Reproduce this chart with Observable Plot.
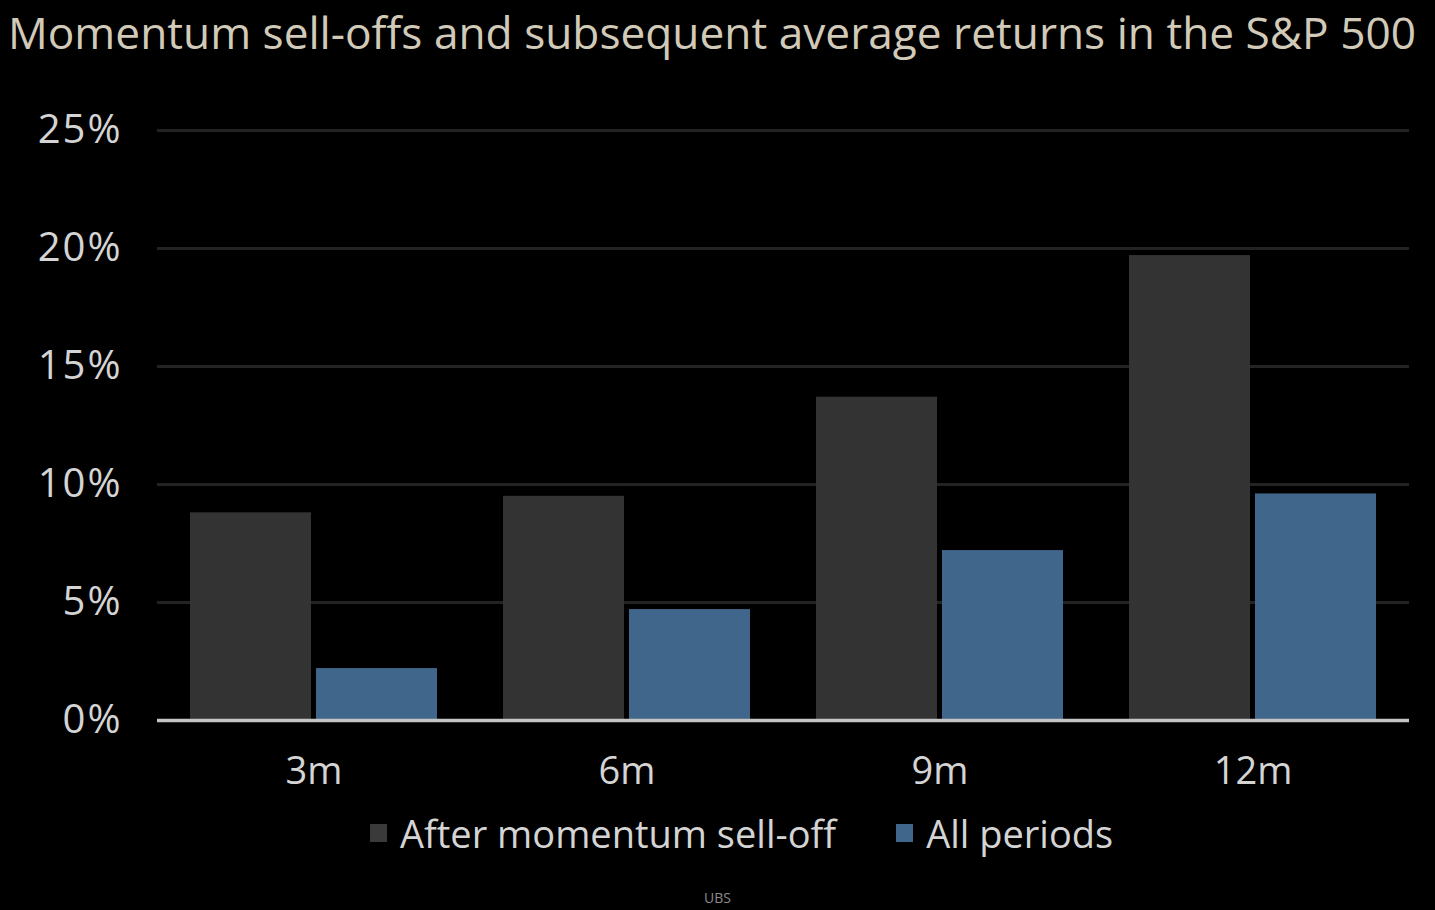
<!DOCTYPE html>
<html><head><meta charset="utf-8">
<script src="https://cdn.jsdelivr.net/npm/d3@7"></script>
<script src="https://cdn.jsdelivr.net/npm/@observablehq/plot@0.6"></script>
<style>
html,body{margin:0;padding:0;background:#000;}
body{width:1435px;height:910px;overflow:hidden;position:relative;font-family:"Open Sans",sans-serif;}
#title{position:absolute;left:0;top:0;width:1435px;height:70px;}
#chart{position:absolute;left:0;top:70px;}
#legend{position:absolute;left:370px;top:814px;height:38px;display:flex;align-items:center;font-size:38px;line-height:38px;color:#d4d4d4;white-space:nowrap;}
#legend .item{display:flex;align-items:center;margin-right:60px;}
#legend .sw{width:17px;height:18px;margin-right:13px;}
#caption{position:absolute;left:0;width:1435px;top:888px;text-align:center;font-size:14px;color:#8a8a8a;}
</style></head><body>
<div id="title"></div>
<div id="chart"></div>
<div id="legend"></div>
<div id="caption"></div>
<script>
const titleText = "Momentum sell-offs and subsequent average returns in the S&P 500";
const captionText = "UBS";
const periods = ["3m", "6m", "9m", "12m"];
const series = ["After momentum sell-off", "All periods"];
const afterSellOff = [8.8, 9.5, 13.7, 19.7];
const allPeriods = [2.2, 4.7, 7.2, 9.6];
const yTicks = [0, 5, 10, 15, 20, 25];
const colors = ["#333333", "#41668c"];

const data = periods.flatMap((p, i) => [
  {period: p, series: series[0], value: afterSellOff[i]},
  {period: p, series: series[1], value: allPeriods[i]}
]);

// Title
const tsvg = d3.select("#title").append("svg").attr("width", 1435).attr("height", 70);
tsvg.append("text")
  .attr("x", 8).attr("y", 49)
  .attr("textLength", 1408).attr("lengthAdjust", "spacingAndGlyphs")
  .attr("font-family", "Open Sans").attr("font-size", 43)
  .attr("fill", "#d2cab9")
  .text(titleText);

const chart = Plot.plot({
  width: 1435, height: 740,
  marginTop: 60, marginBottom: 90, marginLeft: 155, marginRight: 25,
  style: {background: "#000", color: "#d4d4d4", fontFamily: "Open Sans", fontSize: "38px"},
  fx: {domain: periods, padding: 0, label: null},
  x: {domain: series, paddingInner: 0.04, paddingOuter: 0.26, axis: null},
  y: {domain: [0, 25], label: null},
  color: {domain: series, range: colors},
  marks: [
    Plot.gridY(yTicks, {stroke: "#232323", strokeWidth: 3, strokeOpacity: 1}),
    Plot.barY(data, {fx: "period", x: "series", y: "value", fill: "series"}),
    Plot.ruleY([0], {stroke: "#c4c4c4", strokeWidth: 3.5}),
    Plot.axisY(yTicks, {tickFormat: d => d + "%", tickSize: 0, tickPadding: 35, fontSize: 40, fill: "#d4d4d4", label: null}),
    Plot.axisFx({anchor: "bottom", tickSize: 0, tickPadding: 37, fontSize: 38, fill: "#d4d4d4", label: null})
  ]
});
d3.select(chart).selectAll("g[aria-label='y-axis tick label'] text").attr("letter-spacing", "2px");
document.getElementById("chart").appendChild(chart);

// Legend
const legend = d3.select("#legend");
series.forEach((s, i) => {
  const it = legend.append("div").attr("class", "item");
  it.append("div").attr("class", "sw").style("background", i === 0 ? "#3a3a3a" : colors[1]);
  it.append("span").text(s);
});
document.getElementById("caption").textContent = captionText;
</script>
</body></html>
